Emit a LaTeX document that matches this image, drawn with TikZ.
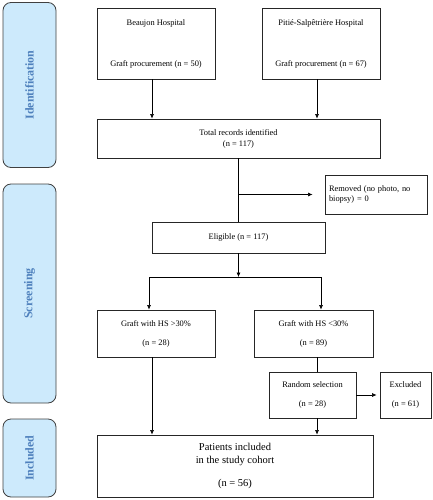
\documentclass[tikz,border=0pt]{standalone}
\usepackage{fontspec}
\setmainfont{Liberation Serif}
\usepackage{xcolor}
\usepackage{tikz}
\usetikzlibrary{arrows.meta}
\definecolor{stagefill}{HTML}{CDEAFC}
\definecolor{stagetext}{HTML}{4F81BD}

\begin{document}
\begin{tikzpicture}[x=1pt,y=-1pt,
	box/.style={rectangle,draw=black!85,line width=0.8pt,align=center,inner sep=2pt,
		font=\fontsize{8.4}{10}\selectfont},
	stage/.style={rectangle,rounded corners=8pt,draw=black!75,line width=0.8pt,fill=stagefill,
		minimum width=53pt,text=stagetext,font=\fontsize{12}{14}\selectfont\bfseries},
	arr/.style={-{Latex[length=4.5pt,width=4pt]},line width=0.6pt},
	link/.style={line width=0.6pt},
	]
	\useasboundingbox (0,0) rectangle (433,500);
	\coordinate (lcol) at (152,0);
	\coordinate (rcol) at (317,0);
	% stages
	\node[stage,minimum height=165pt] (ident) at (29.5,85) {\rotatebox{90}{Identification}};
	\node[stage,minimum height=219pt] (screen) at (29.5,293.5) {\rotatebox{90}{Screening}};
	\node[stage,minimum height=78pt] (incl) at (29.5,458) {\rotatebox{90}{Included}};
	% boxes
	\node[box,minimum width=118pt,minimum height=71pt] (beaujon) at (156,43.5)
		{Beaujon Hospital\\[31pt]Graft procurement (n = 50)};
	\node[box,minimum width=118pt,minimum height=71pt] (pitie) at (321,43.5)
		{Pitié-Salpêtrière Hospital\\[31pt]Graft procurement (n = 67)};
	\node[box,minimum width=283pt,minimum height=39pt] (total) at (238.5,138.5)
		{Total records identified\\[1pt](n = 117)};
	\node[box,minimum width=102pt,minimum height=39pt,text width=94pt,align=left] (removed) at (376,194.5)
		{Removed (no photo, no biopsy) = 0};
	\node[box,minimum width=173pt,minimum height=31pt] (eligible) at (238.5,237.5)
		{Eligible (n = 117)};
	\node[box,minimum width=118pt,minimum height=47pt] (hsover) at (156,333.5)
		{Graft with HS >30\%\\[9pt](n = 28)};
	\node[box,minimum width=119pt,minimum height=47pt] (hsunder) at (313.5,333.5)
		{Graft with HS <30\%\\[9pt](n = 89)};
	\node[box,minimum width=87pt,minimum height=46pt] (random) at (312.5,395)
		{Random selection\\[9.5pt](n = 28)};
	\node[box,minimum width=51pt,minimum height=46pt] (excluded) at (405.5,395)
		{Excluded\\[9.5pt](n = 61)};
	\node[box,minimum width=276pt,minimum height=62pt,font=\fontsize{10.5}{12.6}\selectfont] (patients) at (235,466)
		{Patients included\\in the study cohort\\[10pt](n = 56)};
	% connectors
	\draw[arr] (beaujon.south -| lcol) -- (total.north -| lcol);
	\draw[arr] (pitie.south -| rcol) -- (total.north -| rcol);
	\draw[link] (total.south) -- (eligible.north);
	\draw[arr] (total.south |- removed.west) -- ([xshift=-12pt]removed.west);
	\coordinate (split) at (238.5,277);
	\draw[arr] (eligible.south) -- (split);
	\draw[arr] (split) -| ([xshift=-7pt]hsover.north);
	\draw[arr] (split) -| ([xshift=7.5pt]hsunder.north);
	\draw[link] (hsunder.south -| rcol) -- (random.north -| rcol);
	\draw[arr] (random.east) -- ([xshift=-3pt]excluded.west);
	\draw[arr] (hsover.south -| lcol) -- (patients.north -| lcol);
	\draw[arr] (random.south -| rcol) -- (patients.north -| rcol);
\end{tikzpicture}
\end{document}
